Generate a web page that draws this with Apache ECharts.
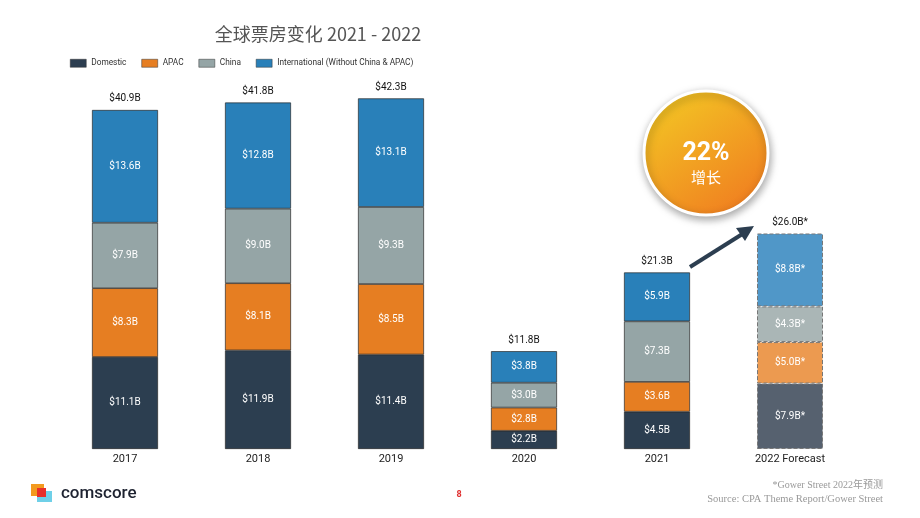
<!DOCTYPE html>
<html lang="zh-CN">
<head>
    <meta charset="UTF-8">
    <title>全球票房变化 2021 - 2022</title>
    <script src="https://cdn.jsdelivr.net/npm/echarts@6/dist/echarts.min.js"></script>
    <style>
        html, body { margin: 0; padding: 0; background: #fff; }
        #chart { width: 920px; height: 518px; }
    </style>
</head>
<body>
    <div id="chart"></div>
    <script>
        const categories = ['2017', '2018', '2019', '2020', '2021', '2022 Forecast'];
        const domestic = [11.1, 11.9, 11.4, 2.2, 4.5, 7.9];
        const apac = [8.3, 8.1, 8.5, 2.8, 3.6, 5.0];
        const china = [7.9, 9.0, 9.3, 3.0, 7.3, 4.3];
        const intl = [13.6, 12.8, 13.1, 3.8, 5.9, 8.8];
        const totals = [40.9, 41.8, 42.3, 11.8, 21.3, 26.0];
        const forecastIndex = 5;

        const font = 'Roboto, "Noto Sans CJK SC", sans-serif';

        function makeSeries(name, values, color, forecastColor) {
            return {
                name: name,
                type: 'bar',
                stack: 'total',
                barWidth: 66,
                itemStyle: { color: color, borderColor: '#2a2a2a', borderWidth: 0.7 },
                label: {
                    show: true,
                    color: '#fff',
                    fontSize: 10,
                    fontFamily: font,
                    formatter: p => '$' + p.value.toFixed(1) + 'B' + (p.dataIndex === forecastIndex ? '*' : '')
                },
                data: values.map((v, i) => i === forecastIndex ? {
                    value: v,
                    itemStyle: { color: forecastColor, borderColor: '#777', borderWidth: 1, borderType: 'dashed' }
                } : v)
            };
        }

        const chart = echarts.init(document.getElementById('chart'));

        chart.setOption({
            animation: false,
            textStyle: { fontFamily: font },
            title: {
                text: '全球票房变化 2021 - 2022',
                left: 313,
                textAlign: 'center',
                top: 20,
                textStyle: { fontSize: 18, fontWeight: 'normal', color: '#555', fontFamily: '"Noto Sans CJK SC", Roboto, sans-serif' }
            },
            legend: {
                left: 65,
                top: 54,
                itemWidth: 16,
                itemHeight: 8,
                itemGap: 15,
                icon: 'rect',
                textStyle: { fontSize: 8.3, color: '#333', fontFamily: font },
                itemStyle: { borderColor: '#333', borderWidth: 0.5 },
                data: ['Domestic', 'APAC', 'China', 'International (Without China & APAC)']
            },
            grid: { left: 58.5, right: 63.5, top: 76, bottom: 69 },
            xAxis: {
                type: 'category',
                data: categories,
                axisLine: { show: false },
                axisTick: { show: false },
                axisLabel: { color: '#222', fontSize: 11, margin: 5, fontFamily: font }
            },
            yAxis: {
                type: 'value',
                min: 0,
                max: 45,
                show: false
            },
            series: [
                makeSeries('Domestic', domestic, '#2c3e50', '#56616f'),
                makeSeries('APAC', apac, '#e67e22', '#ec9a50'),
                makeSeries('China', china, '#95a5a6', '#aab6b6'),
                makeSeries('International (Without China & APAC)', intl, '#2980b9', '#5097c8'),
                {
                    name: 'total',
                    type: 'bar',
                    stack: 'total',
                    barWidth: 66,
                    data: totals.map(() => 0),
                    itemStyle: { color: 'transparent' },
                    label: {
                        show: true,
                        position: 'top',
                        distance: 6,
                        color: '#111',
                        fontSize: 10,
                        fontFamily: font,
                        formatter: p => '$' + totals[p.dataIndex].toFixed(1) + 'B' + (p.dataIndex === forecastIndex ? '*' : '')
                    }
                }
            ],
            graphic: [
                {
                    type: 'line',
                    shape: { x1: 690, y1: 267, x2: 744, y2: 233 },
                    style: { stroke: '#2c3e50', lineWidth: 4 }
                },
                {
                    type: 'polygon',
                    shape: { points: [[754, 226], [736, 228], [745, 241]] },
                    style: { fill: '#2c3e50' }
                },
                {
                    type: 'circle',
                    shape: { cx: 706, cy: 153, r: 62 },
                    style: {
                        fill: new echarts.graphic.LinearGradient(0.15, 0, 0.85, 1, [
                            { offset: 0, color: '#f3c824' },
                            { offset: 1, color: '#f07a20' }
                        ]),
                        stroke: '#fff',
                        lineWidth: 3,
                        shadowBlur: 8,
                        shadowOffsetX: 1,
                        shadowOffsetY: 3,
                        shadowColor: 'rgba(0,0,0,0.35)'
                    }
                },
                {
                    type: 'text',
                    x: 706, y: 166,
                    style: { text: '22%', fill: '#fff', font: 'bold 25px Roboto, sans-serif', textAlign: 'center', textVerticalAlign: 'bottom' }
                },
                {
                    type: 'text',
                    x: 706, y: 177,
                    style: { text: '增长', fill: '#fff', font: '15px "Noto Sans CJK SC", sans-serif', textAlign: 'center', textVerticalAlign: 'middle' }
                },
                { type: 'rect', shape: { x: 31, y: 484, width: 13, height: 12 }, style: { fill: '#f39a1e' } },
                { type: 'rect', shape: { x: 37, y: 491, width: 15, height: 11 }, style: { fill: '#6fd0e8' } },
                { type: 'rect', shape: { x: 37, y: 488, width: 9, height: 9 }, style: { fill: '#e8302a' } },
                {
                    type: 'text',
                    x: 61, y: 494,
                    style: { text: 'comscore', fill: '#1d2230', font: '500 17px Roboto, sans-serif', textVerticalAlign: 'middle' }
                },
                {
                    type: 'text',
                    x: 459, y: 495,
                    style: { text: '8', fill: '#e03030', font: 'bold 9px Roboto, sans-serif', textAlign: 'center', textVerticalAlign: 'middle' }
                },
                {
                    type: 'text',
                    x: 883, y: 485,
                    style: { text: '*Gower Street 2022年预测', fill: '#999', font: '10px "Liberation Serif", "Noto Sans CJK SC", serif', textAlign: 'right', textVerticalAlign: 'middle' }
                },
                {
                    type: 'text',
                    x: 883, y: 499,
                    style: { text: 'Source: CPA Theme Report/Gower Street', fill: '#999', font: '10.5px "Liberation Serif", serif', textAlign: 'right', textVerticalAlign: 'middle' }
                }
            ]
        });
    </script>
</body>
</html>
